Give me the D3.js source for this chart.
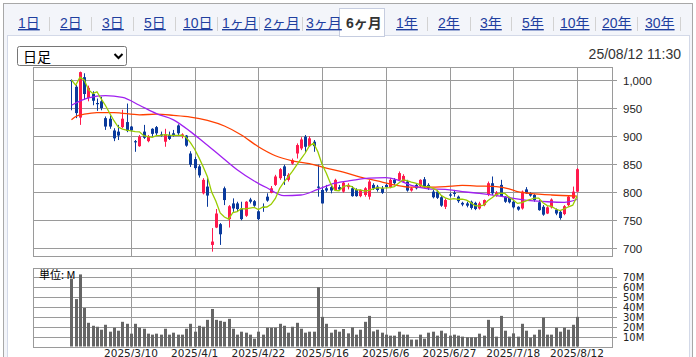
<!DOCTYPE html>
<html><head><meta charset="utf-8">
<script src="https://cdn.jsdelivr.net/npm/d3@7"></script>
<style>html,body{margin:0;padding:0;background:#fff;overflow:hidden}svg{display:block}</style>
</head><body><svg id="c" width="696" height="357"></svg>
<script>
// ---- data ----
const openP  = [1000,988,933,1005,968,975,959,962,932,931,910,908,916,925,917,891,882,908,891,913,916,903,890,902,905,919,900,901,869,859,846,798,810,706,737,743,807,752,780,780,771,758,787,784,766,774,792,799,813,825,846,822,851,869,878,899,882,890,810,804,807,809,804,809,801,809,807,804,793,795,792,813,810,807,813,809,822,822,819,819,803,813,811,823,813,801,801,791,774,796,799,792,781,780,783,781,771,777,795,816,794,813,792,790,783,774,771,805,798,795,782,774,762,773,769,765,761,777,789,801];
const highP  = [1001,991,1015,1012,990,980,967,970,935,937,914,920,947,958,918,893,902,920,902,914,918,908,913,908,911,921,905,902,873,863,849,825,825,736,770,745,810,777,789,783,783,784,790,786,768,780,798,811,831,843,849,834,860,887,898,902,900,893,849,810,813,811,824,813,819,816,811,807,805,809,822,816,813,811,816,825,825,837,832,822,809,815,823,827,816,804,804,793,789,799,804,794,783,783,785,783,783,787,819,828,802,822,793,792,786,775,803,809,800,797,786,777,775,789,771,768,777,795,810,843];
const lowP   = [946,932,920,965,962,955,945,946,911,913,891,893,914,907,908,872,881,895,889,899,902,899,881,893,899,902,896,881,845,840,826,796,774,694,736,706,777,737,765,765,750,756,780,774,750,765,783,798,811,822,813,819,849,860,875,872,881,872,792,780,800,798,803,803,799,805,792,792,791,792,787,804,801,797,807,807,813,821,817,801,801,805,809,807,804,789,788,774,770,791,792,781,775,773,769,768,769,775,793,795,792,792,781,780,771,767,769,797,792,783,767,758,761,771,759,751,759,775,788,800];
const closeP = [998,941,1014,975,986,963,957,950,917,917,896,901,931,909,910,889,899,897,900,904,905,901,903,895,902,905,903,883,849,843,830,822,794,712,762,725,786,775,771,770,752,783,783,776,752,772,785,807,828,841,829,831,857,884,894,881,896,882,808,780,803,803,822,805,817,813,793,793,804,807,819,807,804,799,809,822,816,834,829,803,807,807,822,809,807,791,790,776,786,794,797,784,778,776,772,770,780,786,816,798,799,793,783,782,773,769,801,798,794,786,768,760,773,787,762,754,775,792,801,841];
const volumeM = [68.7,48,73,39,24,21,20,17,22,15,19,16,25,23,13,23,19,18,13,12,13,12,18,12,14,12,12,18,23,15,21,20,27,38,27,26,25,28,18,12,15,14,12,8,15,12,19,19,19,23,21,14,20,24,18,14,15,15,60,30,23,14,17,15,17.7,13.3,19.3,12,17,25,31,15.3,17,14,12,11,11,15,12,12,7,7,12,8,14,15,11,16,13.3,11,12,11,10,9.3,9.3,9.3,13,11,27,19,10,31,16,10,13.3,10,23,16,9,12,17,29.3,12,12,19,15,19,17,22,30];
const ma5Head = [1000,991,1005,1000];
const ma25Idx = [0,4,8,12,16,20,24,28,31,35,39,43,46,50,54,58,62,66,70,74,77,80,84,88,92,96,100,104,108,112,116,119];
const ma25Val = [955,968,972,969,955,940,929,908,890,865,840,820,808,794,795,805,816,821,825,826,821,812,806,805,801,798,794,789,785,783,782,787];
const ma75Idx = [0,1,3,6,10,16,20,24,28,32,36,40,44,48,52,56,60,64,68,72,76,80,84,88,92,96,100,103,105,108,113,119];
const ma75Val = [929,935,939,942,942,938,939,937,934,928,918,902,881,865,856,851,843,836,827,820,813,809,809,810,812,811,810,806,801,798,795,793];
const tickIdx = [14,29,44,59,74,89,104,119];
const tickLabels = ["2025/3/10","2025/4/1","2025/4/22","2025/5/16","2025/6/6","2025/6/27","2025/7/18","2025/8/12"];
const priceTicks = [700,750,800,850,900,950,1000];
const volTicks = [10,20,30,40,50,60,70];
const periodTabs = ["1日","2日","3日","5日","10日","1ヶ月","2ヶ月","3ヶ月","6ヶ月","1年","2年","3年","5年","10年","20年","30年"];
const selectedTab = "6ヶ月";
const timestamp = "25/08/12 11:30";
const unitLabel = "単位: M";
const selectLabel = "日足";

// ---- layout ----
const tabX = [18,60,102,144,183,222,264,306,346,396,438,480,522,560,602,645];
const sepX = [49,91,133,175,217,259,302,427,470,511,553,595,637,680];
const L = 33, R = 612.7, PT = 66.7, PB = 255.7, VT = 267.5, VB = 346.5;
const UP = "#ff1a4d", DN = "#0a3a9c", GRID = "#9a9a9a";
const NUM = "'Liberation Sans', Arial, sans-serif";
const JP = "'Liberation Sans', 'Noto Sans CJK JP', sans-serif";

const svg = d3.select("#c");
svg.append("rect").attr("width",696).attr("height",357).attr("fill","#fff");
svg.append("rect").attr("x",3.5).attr("y",3.5).attr("width",689).attr("height",400)
  .attr("fill","#f3f5fa").attr("stroke","#a8a8a8");
svg.append("rect").attr("x",7.5).attr("y",35.5).attr("width",682).attr("height",400)
  .attr("fill","#fff").attr("stroke","#d3d9e8");

// tabs
const selI = periodTabs.indexOf(selectedTab);
svg.append("rect").attr("x",339.5).attr("y",8.5).attr("width",45).attr("height",28)
  .attr("fill","#fff").attr("stroke","#c6cde0");
svg.append("line").attr("x1",340).attr("x2",384).attr("y1",35.5).attr("y2",35.5).attr("stroke","#fff");
sepX.forEach(sx => svg.append("line").attr("x1",sx+0.5).attr("x2",sx+0.5).attr("y1",17).attr("y2",31).attr("stroke","#d2d2d2"));
svg.selectAll("text.tab").data(periodTabs).join("text").attr("class","tab")
  .attr("x",(d,i)=>tabX[i]).attr("y",28)
  .attr("font-family",JP).attr("font-size",14)
  .attr("font-weight",(d,i)=>i===selI?"bold":"normal")
  .attr("fill",(d,i)=>i===selI?"#333":"#1f3f9f")
  .attr("text-decoration",(d,i)=>i===selI?"none":"underline")
  .text(d=>d);

// select box + timestamp
svg.append("rect").attr("x",17.5).attr("y",46.5).attr("width",109).attr("height",19).attr("rx",2)
  .attr("fill","#fff").attr("stroke","#767676");
svg.append("text").attr("x",23).attr("y",61.5).attr("font-family","'Noto Sans CJK JP', sans-serif")
  .attr("font-size",14).attr("fill","#000").text(selectLabel);
svg.append("path").attr("d","M114.5,54 L118.5,58 L122.5,54").attr("fill","none").attr("stroke","#000").attr("stroke-width",2);
svg.append("text").attr("x",681).attr("y",59).attr("text-anchor","end").attr("font-family",NUM)
  .attr("font-size",14).attr("fill","#333").text(timestamp);

// scales
const x = d3.scaleLinear().domain([-9.06,127.41]).range([L,R]);
const y = d3.scaleLinear().domain([700,1000]).range([248.3,80]);
const yv = d3.scaleLinear().domain([0,80]).range([VB,VT]);
const px = i => Math.round(x(i));

// panels
[[PT,PB],[VT,VB]].forEach(([t,b])=>{
  svg.append("rect").attr("x",L+0.5).attr("y",Math.round(t)+0.5).attr("width",Math.round(R)-L-1)
    .attr("height",Math.round(b)-Math.round(t)).attr("fill","#fff").attr("stroke",GRID);
  tickIdx.forEach(ti=>svg.append("line").attr("x1",px(ti)+0.5).attr("x2",px(ti)+0.5)
    .attr("y1",Math.round(t)).attr("y2",Math.round(b)).attr("stroke",GRID));
});
priceTicks.forEach(v=>{
  const yy = Math.round(y(v))+0.5;
  svg.append("line").attr("x1",L).attr("x2",617).attr("y1",yy).attr("y2",yy).attr("stroke",GRID);
  svg.append("text").attr("x",623).attr("y",yy).attr("dy","0.35em").attr("font-family",NUM)
    .attr("font-size",11.5).attr("fill","#222").text(d3.format(",")(v));
});
volTicks.forEach(v=>{
  const yy = Math.round(yv(v))+0.5;
  svg.append("line").attr("x1",L).attr("x2",617).attr("y1",yy).attr("y2",yy).attr("stroke",GRID);
  svg.append("text").attr("x",623).attr("y",yy).attr("dy","0.36em").attr("font-family","'DejaVu Sans', sans-serif")
    .attr("font-size",10).attr("fill","#222").text(v+"M");
});
tickIdx.forEach((ti,k)=>svg.append("text").attr("x",x(ti)).attr("y",356.5).attr("text-anchor","middle")
  .attr("font-family","'DejaVu Sans', sans-serif").attr("font-size",10.5).attr("fill","#222").text(tickLabels[k]));

// volume bars
svg.append("g").selectAll("rect").data(volumeM).join("rect")
  .attr("x",(d,i)=>px(i)-1).attr("width",3)
  .attr("y",d=>yv(d)).attr("height",d=>VB-yv(d)).attr("fill","#666");
svg.append("text").attr("x",39).attr("y",279).attr("font-family","'Noto Sans CJK JP', sans-serif")
  .attr("font-size",11).attr("fill","#000").text(unitLabel);

// candles
const cg = svg.append("g");
closeP.forEach((c,i)=>{
  const o = openP[i], up = c > o, col = up ? UP : DN;
  cg.append("line").attr("x1",px(i)+0.5).attr("x2",px(i)+0.5).attr("y1",y(highP[i])).attr("y2",y(lowP[i]))
    .attr("stroke",col).attr("stroke-width",1);
  const t = y(Math.max(o,c)), b = y(Math.min(o,c));
  cg.append("rect").attr("x",px(i)-1).attr("width",3).attr("y",t).attr("height",Math.max(1.2,b-t)).attr("fill",col);
});

// moving averages
const ma5 = closeP.map((c,i)=> i<4 ? ma5Head[i] : d3.mean(closeP.slice(i-4,i+1)));
const line = d3.line().x(d=>x(d[0])).y(d=>y(d[1]));
svg.append("path").attr("d",line.curve(d3.curveMonotoneX)(ma75Idx.map((d,k)=>[d,ma75Val[k]])))
  .attr("fill","none").attr("stroke","#ff4000").attr("stroke-width",1.3);
svg.append("path").attr("d",line.curve(d3.curveMonotoneX)(ma25Idx.map((d,k)=>[d,ma25Val[k]])))
  .attr("fill","none").attr("stroke","#a020f0").attr("stroke-width",1.3);
svg.append("path").attr("d",line.curve(d3.curveLinear)(ma5.map((v,i)=>[i,v])))
  .attr("fill","none").attr("stroke","#99cc00").attr("stroke-width",1.3);
</script></body></html>
